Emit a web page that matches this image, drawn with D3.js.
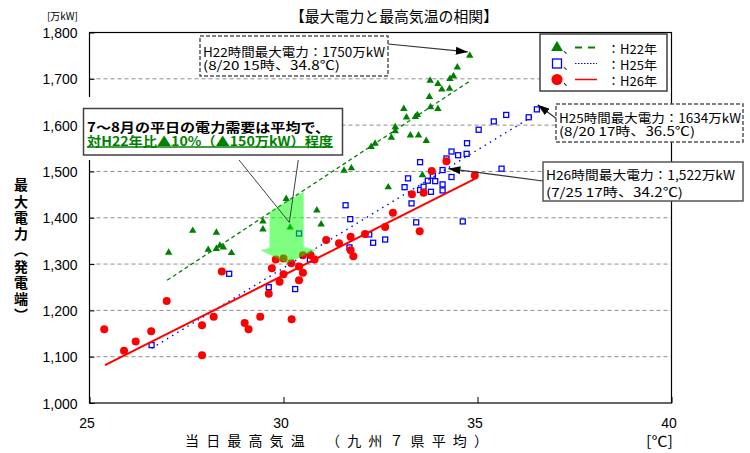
<!DOCTYPE html>
<html>
<head>
<meta charset="utf-8">
<script src="https://cdn.jsdelivr.net/npm/d3@7"></script>
<style>
  body { margin: 0; background: #fff; }
  svg { display: block; font-family: "Noto Sans CJK JP", "Noto Sans", sans-serif; }
</style>
</head>
<body>
<svg id="chart" width="750" height="453"></svg>
<script>
// temperature (deg C) / peak demand (万kW)
const h22Temp = [27.04, 27.66, 28.06, 28.27, 28.27, 28.36, 28.45, 28.66, 29.47, 29.47, 30.07, 30.17, 30.86, 30.97,
  31.56, 31.75, 32.26, 32.36, 32.7, 32.78, 32.88, 32.88, 33.1, 33.17, 33.27, 33.4, 33.45, 33.48, 33.58, 33.68,
  33.76, 33.78, 33.79, 33.98, 33.98, 34.08, 34.28, 34.29, 34.38, 34.48, 34.8];
const h22Power = [1325, 1372, 1331, 1368, 1333, 1340, 1336, 1324, 1392, 1375, 1441, 1379, 1416, 1386,
  1502, 1507, 1553, 1560, 1466, 1573, 1587, 1596, 1635, 1617, 1578, 1618, 1622, 1578, 1492, 1566,
  1661, 1696, 1639, 1635, 1689, 1677, 1679, 1700, 1706, 1725, 1750];

const h25Temp = [26.6, 28.6, 29.62, 30.3, 30.4, 30.68, 31.6, 31.72, 31.7, 32.21, 32.31, 32.62, 33.12, 33.21,
  33.3, 33.42, 33.52, 33.52, 33.61, 33.72, 33.85, 33.8, 33.91, 34.1, 34.1, 34.1, 34.2, 34.33, 34.33, 34.5,
  34.62, 34.72, 34.73, 35.03, 35.42, 35.62, 35.74, 36.32, 36.53];
const h25Power = [1125, 1279, 1250, 1246, 1366, 1310, 1427, 1397, 1336, 1364, 1346, 1353, 1466, 1485,
  1431, 1390, 1460, 1520, 1467, 1480, 1491, 1456, 1479, 1503, 1472, 1459, 1528, 1488, 1543, 1535,
  1392, 1538, 1561, 1590, 1608, 1506, 1622, 1617, 1634];

const h26Temp = [25.38, 25.89, 26.19, 26.59, 26.99, 27.9, 27.9, 28.2, 28.41, 29.0, 29.1, 29.4, 29.62, 29.7,
  29.8, 29.9, 30.0, 30.0, 30.21, 30.2, 30.4, 30.4, 30.5, 30.5, 30.7, 30.8, 31.1, 31.43, 31.73, 31.73,
  31.8, 32.1, 32.62, 32.82, 33.31, 33.51, 33.61, 33.82, 34.2, 34.93];
const h26Power = [1159, 1113, 1133, 1155, 1220, 1168, 1103, 1186, 1284, 1173, 1159, 1186, 1236, 1291,
  1310, 1262, 1312, 1278, 1181, 1302, 1295, 1265, 1281, 1319, 1319, 1310, 1352, 1345, 1359, 1330,
  1317, 1365, 1380, 1411, 1451, 1371, 1454, 1501, 1522, 1491];

// trend line end points [temp, power]
const h22Trend = [[27.0, 1265], [34.8, 1695]];
const h25Trend = [[26.6, 1118], [36.5, 1623]];
const h26Trend = [[25.4, 1082], [34.93, 1484]];

const xTicks = [25, 30, 35, 40];
const yTicks = [1000, 1100, 1200, 1300, 1400, 1500, 1600, 1700, 1800];
const seriesNames = ["H22年", "H25年", "H26年"];

// the "down 10%" arrow, in data units
const dropArrow = [[29.64, 1412], [30.52, 1456], [30.52, 1337], [30.85, 1330], [30.08, 1302], [29.41, 1330], [29.64, 1335]];

const svg = d3.select("#chart");
const x = d3.scaleLinear().domain([25, 40]).range([89.5, 671.5]);
const y = d3.scaleLinear().domain([1000, 1800]).range([403, 32.5]);

// gridlines
svg.append("g").selectAll("line")
  .data(yTicks.filter(d => d > 1000 && d < 1800))
  .join("line")
  .attr("x1", x(25)).attr("x2", x(40))
  .attr("y1", d => y(d)).attr("y2", d => y(d))
  .attr("stroke", "#8c8c8c").attr("stroke-width", 1)
  .attr("stroke-dasharray", "4,3");

// axes
const gx = svg.append("g")
  .attr("transform", `translate(0,${y(1000)})`)
  .call(d3.axisBottom(x).tickValues(xTicks).tickSizeInner(-6).tickSizeOuter(0).tickFormat(d3.format("d")));
gx.select(".domain").remove();
gx.selectAll("line").attr("stroke", "#000");
gx.selectAll("text").attr("y", 20).attr("dy", null).attr("dominant-baseline", "central")
  .attr("dx", -3).attr("font-size", 14).attr("fill", "#000");

const gy = svg.append("g")
  .attr("transform", `translate(${x(25)},0)`)
  .call(d3.axisLeft(y).tickValues(yTicks).tickSizeInner(-5).tickSizeOuter(0).tickPadding(12).tickFormat(d3.format(",")));
gy.select(".domain").remove();
gy.selectAll("line").attr("stroke", "#000");
gy.selectAll("text").attr("dy", null).attr("dominant-baseline", "central")
  .attr("font-size", 14).attr("fill", "#000").attr("textLength", 35);

// plot frame
svg.append("rect")
  .attr("x", x(25)).attr("y", y(1800))
  .attr("width", x(40) - x(25)).attr("height", y(1000) - y(1800))
  .attr("fill", "none").attr("stroke", "#000").attr("stroke-width", 1.2);

// markers
const green = "#008000", blue = "#0000ff", red = "#ff0000";
svg.append("g").selectAll("path")
  .data(d3.zip(h22Temp, h22Power))
  .join("path")
  .attr("transform", d => `translate(${x(d[0])},${y(d[1])})`)
  .attr("d", d3.symbol(d3.symbolTriangle, 24))
  .attr("fill", green);

svg.append("g").selectAll("rect")
  .data(d3.zip(h25Temp, h25Power))
  .join("rect")
  .attr("x", d => x(d[0]) - 2.5).attr("y", d => y(d[1]) - 2.5)
  .attr("width", 5).attr("height", 5)
  .attr("fill", "#fff").attr("stroke", blue).attr("stroke-width", 1.3);

svg.append("g").selectAll("circle")
  .data(d3.zip(h26Temp, h26Power))
  .join("circle")
  .attr("cx", d => x(d[0])).attr("cy", d => y(d[1]))
  .attr("r", 4).attr("fill", red);

// trend lines
const line = d3.line().x(d => x(d[0])).y(d => y(d[1]));
svg.append("path").datum(h22Trend).attr("d", line)
  .attr("stroke", green).attr("stroke-width", 1.3).attr("stroke-dasharray", "4,3").attr("fill", "none");
svg.append("path").datum(h25Trend).attr("d", line)
  .attr("stroke", blue).attr("stroke-width", 1.4).attr("stroke-dasharray", "1.5,4.5").attr("fill", "none");
svg.append("path").datum(h26Trend).attr("d", line)
  .attr("stroke", red).attr("stroke-width", 2).attr("fill", "none");

// translucent green arrow
svg.append("path").datum(dropArrow)
  .attr("d", d3.line().x(d => x(d[0])).y(d => y(d[1])).curve(d3.curveLinearClosed))
  .attr("fill", "#00ff00").attr("opacity", 0.5);

// arrow head marker
svg.append("defs").append("marker")
  .attr("id", "head").attr("viewBox", "0 0 12 8")
  .attr("refX", 12).attr("refY", 4)
  .attr("markerWidth", 12).attr("markerHeight", 8)
  .attr("markerUnits", "userSpaceOnUse").attr("orient", "auto")
  .append("path").attr("d", "M0,0L12,4L0,8Z").attr("fill", "#000");

// pointer arrows to the yearly maxima
const pointers = [
  [[388, 44], [x(34.75), y(1758)]],
  [[557, 119], [x(36.55), y(1644)]],
  [[543, 181], [x(34.25), y(1506)]]
];
svg.append("g").selectAll("line")
  .data(pointers)
  .join("line")
  .attr("x1", d => d[0][0]).attr("y1", d => d[0][1])
  .attr("x2", d => d[1][0]).attr("y2", d => d[1][1])
  .attr("stroke", "#333").attr("stroke-width", 1.2)
  .attr("marker-end", "url(#head)");

// callout pointer lines
const calloutTip = [x(30.15), y(1390)];
svg.append("path")
  .attr("d", `M235,155L${calloutTip[0]},${calloutTip[1]}L299,155`)
  .attr("fill", "none").attr("stroke", "#404040").attr("stroke-width", 1);

// text boxes: both lines in one text element
function box(bx, by, w, h, dashed, lines) {
  const g = svg.append("g");
  g.append("rect").attr("x", bx).attr("y", by).attr("width", w).attr("height", h)
    .attr("fill", "#fff").attr("stroke", "#555").attr("stroke-width", 1.5)
    .attr("stroke-dasharray", dashed ? "4,2" : null);
  const t = g.append("text").attr("font-size", 12.5).attr("dominant-baseline", "central");
  lines.forEach(l => {
    t.append("tspan").attr("x", bx + 3).attr("y", l.y)
      .attr("textLength", l.len).attr("lengthAdjust", "spacingAndGlyphs")
      .text(l.t);
  });
}
box(200, 36, 188, 40, true, [
  { t: "H22時間最大電力：1750万kW", y: 50.5, len: 182 },
  { t: "(8/20 15時、34.8℃)", y: 64, len: 137 }
]);
box(556, 104, 187, 38, true, [
  { t: "H25時間最大電力：1634万kW", y: 116.5, len: 182 },
  { t: "(8/20 17時、36.5℃)", y: 130, len: 136 }
]);
box(543, 162, 200, 39, false, [
  { t: "H26時間最大電力：1,522万kW", y: 174, len: 189 },
  { t: "(7/25 17時、34.2℃)", y: 190.5, len: 137 }
]);

// callout box
svg.append("rect").attr("x", 83).attr("y", 97).attr("width", 260).attr("height", 63).attr("fill", "#fff");
svg.append("rect").attr("x", 83.5).attr("y", 108.5).attr("width", 259).attr("height", 46.5)
  .attr("fill", "#fff").attr("stroke", "#404040").attr("stroke-width", 1.5);
const ct = svg.append("text").attr("font-size", 13).attr("font-weight", "bold").attr("dominant-baseline", "central");
ct.append("tspan").attr("x", 87).attr("y", 126)
  .attr("textLength", 243).attr("lengthAdjust", "spacingAndGlyphs")
  .text("7～8月の平日の電力需要は平均で、");
ct.append("tspan").attr("x", 87).attr("y", 140).attr("fill", green)
  .attr("textLength", 246).attr("lengthAdjust", "spacingAndGlyphs")
  .text("対H22年比▲10%（▲150万kW）程度");
svg.append("line").attr("x1", 87).attr("x2", 333).attr("y1", 147).attr("y2", 147)
  .attr("stroke", green).attr("stroke-width", 1.5);

// legend
const lg = svg.append("g");
lg.append("rect").attr("x", 540).attr("y", 34).attr("width", 127).attr("height", 57)
  .attr("fill", "#fff").attr("stroke", "#404040").attr("stroke-width", 1.5);
const rowY = [47.5, 63.5, 79.5];
lg.append("path").attr("transform", `translate(557,${rowY[0]})`)
  .attr("d", d3.symbol(d3.symbolTriangle, 60)).attr("fill", green);
lg.append("rect").attr("x", 552.5).attr("y", rowY[1] - 4.5).attr("width", 9).attr("height", 9)
  .attr("fill", "#fff").attr("stroke", blue).attr("stroke-width", 1.3);
lg.append("circle").attr("cx", 557).attr("cy", rowY[2]).attr("r", 5.5).attr("fill", red);
const lgStyles = [
  { c: green, w: 2, dash: "7,6" },
  { c: blue, w: 1.2, dash: "1.5,1.5" },
  { c: red, w: 1.5, dash: null }
];
seriesNames.forEach((name, i) => {
  lg.append("line").attr("x1", 575).attr("x2", 597).attr("y1", rowY[i]).attr("y2", rowY[i])
    .attr("stroke", lgStyles[i].c).attr("stroke-width", lgStyles[i].w)
    .attr("stroke-dasharray", lgStyles[i].dash);
});
// legend labels in one text element
const lt = lg.append("text").attr("font-size", 12.5).attr("dominant-baseline", "central");
seriesNames.forEach((name, i) => {
  lt.append("tspan").attr("x", 563).attr("y", rowY[i]).attr("font-size", 11).text("、");
  lt.append("tspan").attr("x", 607).attr("y", rowY[i])
    .attr("textLength", 50).attr("lengthAdjust", "spacingAndGlyphs")
    .text("：" + name);
});

// titles
svg.append("text").attr("x", 290).attr("y", 15).attr("dominant-baseline", "central")
  .attr("font-size", 15).attr("textLength", 208).attr("lengthAdjust", "spacingAndGlyphs")
  .text("【最大電力と最高気温の相関】");
svg.append("text").attr("x", 47).attr("y", 15.5).attr("dominant-baseline", "central")
  .attr("font-size", 10).attr("textLength", 31).attr("lengthAdjust", "spacingAndGlyphs")
  .text("[万kW]");
svg.append("text").attr("x", 185).attr("y", 440).attr("dominant-baseline", "central")
  .attr("font-size", 14).attr("textLength", 303).attr("lengthAdjust", "spacing")
  .text("当日最高気温　（九州７県平均）");
svg.append("text").attr("x", 646).attr("y", 440).attr("dominant-baseline", "central")
  .attr("font-size", 14).attr("textLength", 27).attr("lengthAdjust", "spacingAndGlyphs")
  .text("[℃]");

// vertical y-axis title
svg.append("text")
  .attr("x", 21).attr("y", 178)
  .style("writing-mode", "vertical-rl")
  .attr("font-size", 14).attr("font-weight", "bold")
  .attr("letter-spacing", 2.25)
  .text("最大電力（発電端）");
</script>
</body>
</html>
